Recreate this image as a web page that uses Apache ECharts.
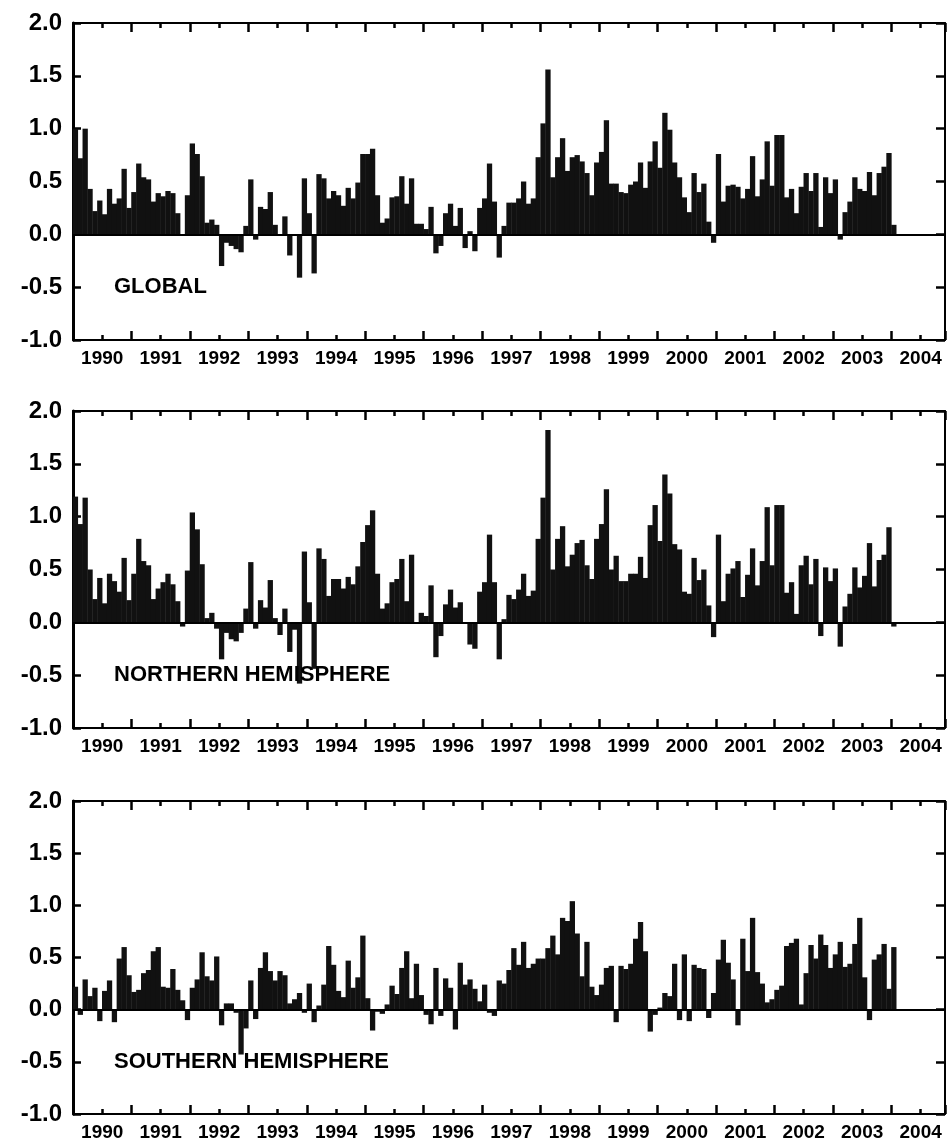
<!DOCTYPE html>
<html>
<head>
<meta charset="utf-8">
<style>
    body { margin: 0; background: #fff; }
    #chart { width: 948px; height: 1142px; }
</style>
</head>
<body>
<div id="chart"></div>

<script src="https://cdn.jsdelivr.net/npm/echarts@6/dist/echarts.min.js"></script>
<script type="text/javascript">
    // monthly anomalies, Jan 1990 .. Jan 2004
    const globalVals = [
        1.0, 0.72, 1.0, 0.43, 0.22, 0.32, 0.19, 0.43, 0.29, 0.34,
        0.62, 0.25, 0.40, 0.67, 0.54, 0.52, 0.31, 0.39, 0.36, 0.41,
        0.39, 0.20, 0.0, 0.37, 0.86, 0.76, 0.55, 0.11, 0.14, 0.09,
        -0.30, -0.08, -0.11, -0.14, -0.17, 0.08, 0.52, -0.05, 0.26, 0.24,
        0.40, 0.09, 0.0, 0.17, -0.20, 0.0, -0.41, 0.53, 0.20, -0.37,
        0.57, 0.53, 0.34, 0.41, 0.37, 0.27, 0.44, 0.34, 0.49, 0.76,
        0.76, 0.81, 0.37, 0.11, 0.15, 0.35, 0.36, 0.55, 0.29, 0.53,
        0.10, 0.10, 0.05, 0.26, -0.18, -0.11, 0.20, 0.29, 0.08, 0.25,
        -0.13, 0.03, -0.16, 0.25, 0.34, 0.67, 0.31, -0.22, 0.08, 0.30,
        0.30, 0.34, 0.50, 0.29, 0.34, 0.73, 1.05, 1.56, 0.54, 0.73,
        0.91, 0.60, 0.73, 0.75, 0.69, 0.58, 0.37, 0.68, 0.78, 1.08,
        0.48, 0.48, 0.40, 0.39, 0.47, 0.50, 0.68, 0.44, 0.69, 0.88,
        0.63, 1.15, 0.99, 0.68, 0.54, 0.35, 0.21, 0.58, 0.40, 0.48,
        0.12, -0.08, 0.76, 0.31, 0.46, 0.47, 0.45, 0.34, 0.43, 0.74,
        0.36, 0.52, 0.88, 0.46, 0.94, 0.94, 0.35, 0.43, 0.20, 0.45,
        0.58, 0.41, 0.58, 0.07, 0.54, 0.39, 0.52, -0.05, 0.21, 0.31,
        0.54, 0.43, 0.41, 0.59, 0.37, 0.58, 0.64, 0.77, 0.09
    ];
    const northVals = [
        1.19, 0.93, 1.18, 0.50, 0.22, 0.42, 0.18, 0.46, 0.39, 0.29,
        0.61, 0.21, 0.46, 0.79, 0.58, 0.54, 0.22, 0.32, 0.38, 0.46,
        0.36, 0.20, -0.04, 0.49, 1.04, 0.88, 0.55, 0.04, 0.09, -0.06,
        -0.35, -0.10, -0.16, -0.18, -0.10, 0.13, 0.57, -0.06, 0.21, 0.14,
        0.40, 0.04, -0.12, 0.13, -0.28, -0.07, -0.58, 0.67, 0.19, -0.44,
        0.70, 0.60, 0.25, 0.41, 0.41, 0.32, 0.43, 0.36, 0.53, 0.76,
        0.92, 1.06, 0.46, 0.13, 0.18, 0.38, 0.41, 0.60, 0.20, 0.64,
        0.0, 0.09, 0.06, 0.35, -0.33, -0.13, 0.17, 0.31, 0.14, 0.19,
        -0.01, -0.21, -0.25, 0.29, 0.38, 0.83, 0.38, -0.35, 0.03, 0.26,
        0.22, 0.31, 0.46, 0.25, 0.30, 0.79, 1.18, 1.82, 0.50, 0.79,
        0.91, 0.53, 0.64, 0.75, 0.78, 0.54, 0.41, 0.79, 0.93, 1.26,
        0.50, 0.63, 0.39, 0.39, 0.46, 0.46, 0.62, 0.42, 0.92, 1.11,
        0.77, 1.40, 1.22, 0.74, 0.69, 0.29, 0.27, 0.61, 0.40, 0.50,
        0.16, -0.14, 0.83, 0.20, 0.46, 0.51, 0.58, 0.24, 0.45, 0.70,
        0.35, 0.58, 1.09, 0.54, 1.11, 1.11, 0.28, 0.38, 0.08, 0.54,
        0.63, 0.36, 0.60, -0.13, 0.52, 0.39, 0.51, -0.23, 0.15, 0.27,
        0.52, 0.33, 0.44, 0.75, 0.34, 0.59, 0.64, 0.90, -0.04
    ];
    const southVals = [
        0.22, -0.05, 0.29, 0.13, 0.21, -0.11, 0.18, 0.28, -0.12, 0.49,
        0.60, 0.33, 0.17, 0.19, 0.35, 0.38, 0.56, 0.60, 0.22, 0.21,
        0.39, 0.19, 0.09, -0.10, 0.21, 0.29, 0.55, 0.32, 0.28, 0.51,
        -0.15, 0.06, 0.06, -0.03, -0.43, -0.18, 0.28, -0.09, 0.40, 0.55,
        0.37, 0.28, 0.37, 0.33, 0.06, 0.10, 0.16, -0.03, 0.25, -0.12,
        0.04, 0.24, 0.61, 0.43, 0.18, 0.12, 0.47, 0.21, 0.31, 0.71,
        0.11, -0.20, -0.02, -0.04, 0.05, 0.23, 0.15, 0.40, 0.56, 0.11,
        0.44, 0.14, -0.05, -0.14, 0.40, -0.06, 0.30, 0.21, -0.19, 0.45,
        0.24, 0.29, 0.20, 0.08, 0.24, -0.03, -0.06, 0.28, 0.25, 0.38,
        0.59, 0.43, 0.65, 0.40, 0.44, 0.49, 0.49, 0.59, 0.71, 0.53,
        0.88, 0.85, 1.04, 0.73, 0.32, 0.65, 0.22, 0.14, 0.24, 0.40,
        0.42, -0.12, 0.42, 0.39, 0.44, 0.68, 0.84, 0.56, -0.21, -0.05,
        0.02, 0.16, 0.13, 0.44, -0.10, 0.53, -0.11, 0.43, 0.40, 0.39,
        -0.08, 0.16, 0.48, 0.67, 0.45, 0.29, -0.15, 0.68, 0.37, 0.88,
        0.36, 0.25, 0.07, 0.10, 0.19, 0.23, 0.61, 0.64, 0.68, 0.05,
        0.35, 0.62, 0.49, 0.72, 0.62, 0.40, 0.53, 0.65, 0.41, 0.44,
        0.63, 0.88, 0.31, -0.10, 0.48, 0.53, 0.63, 0.20, 0.60
    ];
    const years = ['1990', '1991', '1992', '1993', '1994', '1995', '1996', '1997',
                   '1998', '1999', '2000', '2001', '2002', '2003', '2004'];
    const panelNames = ['GLOBAL', 'NORTHERN HEMISPHERE', 'SOUTHERN HEMISPHERE'];

    const panels = [
        { vals: globalVals, top: 23, height: 317, labelTop: 276 },
        { vals: northVals, top: 411, height: 317, labelTop: 664 },
        { vals: southVals, top: 801, height: 313, labelTop: 1051 }
    ];

    const font = 'Liberation Sans';
    const ink = '#000';
    const chart = echarts.init(document.getElementById('chart'));

    const grid = [], xAxis = [], yAxis = [], series = [], title = [];

    panels.forEach((p, g) => {
        grid.push({ left: 73, right: 3, top: p.top, height: p.height });

        // year ticks (long) + half-year minor ticks, bottom and top
        ['bottom', 'top'].forEach(pos => {
            xAxis.push({
                type: 'value', gridIndex: g, position: pos,
                min: 0, max: 179, interval: 12,
                axisLine: { onZero: false, lineStyle: { color: ink, width: 2 } },
                axisTick: { inside: true, length: 9, lineStyle: { color: ink, width: 2.5 } },
                minorTick: { show: true, splitNumber: 2, length: 5, lineStyle: { color: ink, width: 2.5 } },
                axisLabel: { show: false },
                splitLine: { show: false }
            });
        });
        // year labels centred on mid-year
        xAxis.push({
            type: 'value', gridIndex: g, position: 'bottom',
            min: 0, max: 179, interval: 6,
            axisLine: { show: false, onZero: false },
            axisTick: { show: false },
            splitLine: { show: false },
            axisLabel: {
                margin: 9,
                color: ink, fontFamily: font, fontWeight: 'bold', fontSize: 19,
                showMaxLabel: false,
                formatter: v => (v / 6) % 2 === 1 ? years[(v - 6) / 12] : ''
            }
        });

        yAxis.push({
            type: 'value', gridIndex: g, position: 'left',
            min: -1, max: 2, interval: 0.5,
            axisLine: { show: true, onZero: false, lineStyle: { color: ink, width: 3 } },
            axisTick: { show: true, inside: true, length: 8, lineStyle: { color: ink, width: 2.5 } },
            splitLine: { show: false },
            axisLabel: {
                margin: 11,
                color: ink, fontFamily: font, fontWeight: 'bold', fontSize: 24,
                formatter: v => v.toFixed(1)
            }
        });
        yAxis.push({
            type: 'value', gridIndex: g, position: 'right',
            min: -1, max: 2, interval: 0.5,
            axisLine: { show: true, onZero: false, lineStyle: { color: ink, width: 2 } },
            axisTick: { show: true, inside: true, length: 9, lineStyle: { color: ink, width: 2.5 } },
            splitLine: { show: false },
            axisLabel: { show: false }
        });

        series.push({
            type: 'bar',
            xAxisIndex: g * 3,
            yAxisIndex: g * 2,
            barWidth: 5.3,
            itemStyle: { color: '#111' },
            data: p.vals.map((v, i) => [i + 0.5, v]),
            markLine: {
                silent: true,
                symbol: 'none',
                label: { show: false },
                lineStyle: { color: ink, width: 2, type: 'solid' },
                data: [{ yAxis: 0 }]
            }
        });

        title.push({
            text: panelNames[g],
            left: 114, top: p.labelTop, padding: 0,
            textStyle: { color: ink, fontFamily: font, fontWeight: 'bold', fontSize: 22 }
        });
    });

    chart.setOption({
        animation: false,
        backgroundColor: '#fff',
        title: title,
        grid: grid,
        xAxis: xAxis,
        yAxis: yAxis,
        series: series
    });
</script>
</body>
</html>
